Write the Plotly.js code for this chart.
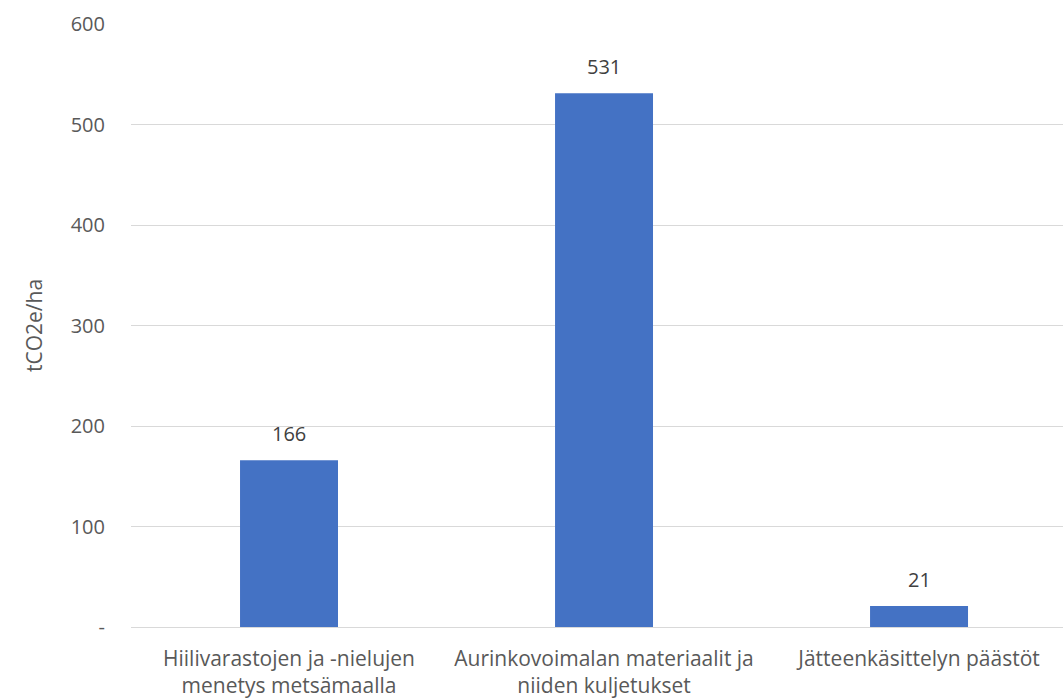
<!DOCTYPE html>
<html>
<head>
<meta charset="utf-8">
<script src="https://cdn.plot.ly/plotly-3.0.1.min.js"></script>
<style>
  html, body { margin: 0; padding: 0; background: #fff; }
  #chart { width: 1063px; height: 700px; }
</style>
</head>
<body>
<div id="chart"></div>
<script>
// Päästöt hehtaaria kohden, tCO2e/ha
const categories = [
  "Hiilivarastojen ja -nielujen<br>menetys metsämaalla",
  "Aurinkovoimalan materiaalit ja<br>niiden kuljetukset",
  "Jätteenkäsittelyn päästöt"
];
const values = [166, 531, 21];
const yTickVals = [0, 100, 200, 300, 400, 500, 600];
const yTickText = ["-", "100", "200", "300", "400", "500", "600"];

const FONT = "'Open Sans', 'Noto Sans', sans-serif";
const GREY = "#595959";

const trace = {
  type: "bar",
  x: [0, 1, 2],
  y: values,
  width: 0.311,
  marker: { color: "#4472C4" },
  hoverinfo: "skip"
};

const labels = values.map((v, i) => ({
  x: i, y: v, xref: "x", yref: "y",
  text: String(v),
  showarrow: false,
  yanchor: "bottom",
  yshift: 11,
  font: { family: FONT, size: 20, color: "#404040" }
}));

const layout = {
  width: 1063, height: 700,
  margin: { l: 131, r: 0, t: 24, b: 73 },
  paper_bgcolor: "#fff", plot_bgcolor: "#fff",
  showlegend: false,
  font: { family: FONT, size: 20, color: GREY },
  xaxis: {
    range: [-0.5016, 2.457],
    tickvals: [0, 1, 2],
    ticktext: categories,
    showgrid: false,
    zeroline: false,
    showline: false,
    ticks: "",
    ticklabelstandoff: 17,
    tickfont: { family: FONT, size: 21, color: GREY }
  },
  yaxis: {
    range: [0, 600],
    tickvals: yTickVals,
    ticktext: yTickText,
    showgrid: true,
    gridcolor: "#d9d9d9",
    gridwidth: 1,
    zeroline: true,
    zerolinecolor: "#d9d9d9",
    zerolinewidth: 1,
    showline: false,
    ticks: "",
    ticklabelstandoff: 25,
    tickfont: { family: FONT, size: 20, color: GREY },
    title: { text: "tCO2e/ha", standoff: 22, font: { family: FONT, size: 21, color: GREY } }
  },
  annotations: labels
};

Plotly.newPlot("chart", [trace], layout, { staticPlot: true, displayModeBar: false });
</script>
</body>
</html>
